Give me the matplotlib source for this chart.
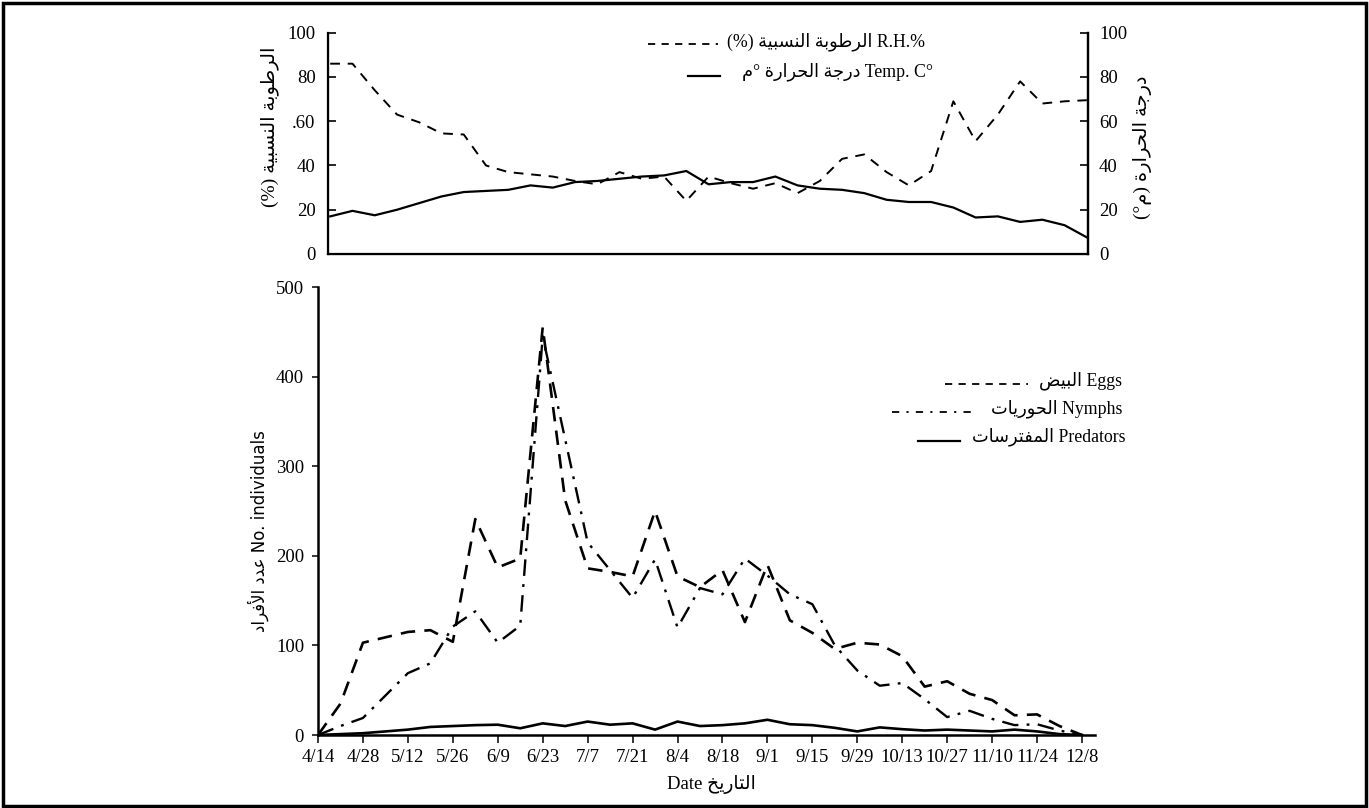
import numpy as np
import matplotlib
matplotlib.use("Agg")
import matplotlib.pyplot as plt
from matplotlib.lines import Line2D
from matplotlib.patches import Rectangle

# ---------------- data ----------------
weeks = list(range(35))  # weekly samples from 4/14 to 12/8
tick_labels = ["4/14", "4/28", "5/12", "5/26", "6/9", "6/23", "7/7", "7/21", "8/4",
               "8/18", "9/1", "9/15", "9/29", "10/13", "10/27", "11/10", "11/24", "12/8"]

rh = [86, 86, 74, 63, 59.5, 54.5, 54, 40, 37, 36, 35, 33, 31.5, 37, 34, 35, 24, 35,
      32, 29.5, 32, 27.5, 33, 43, 45, 37, 31, 37.5, 69, 51, 63, 78, 68, 69, 69.5]
temp = [17, 19.5, 17.5, 20, 23, 26, 28, 28.5, 29, 31, 30, 32.5, 33, 34, 35, 35.5, 37.5,
        31.5, 32.5, 32.5, 35, 31, 29.5, 29, 27.5, 24.5, 23.5, 23.5, 21, 16.5, 17, 14.5,
        15.5, 13, 7.5]

eggs = [0, 35, 103, 109, 115, 117, 104, 241, 187, 197, 455, 262, 186, 182, 177, 250,
        177, 165, 184, 126, 190, 128, 114, 96, 103, 101, 88, 54, 60, 46, 39, 22, 23, 10, 0]
nymphs = [0, 10, 19, 44, 69, 80, 121, 138, 103, 122, 445, 330, 215, 184, 153, 196,
          120, 164, 157, 197, 178, 157, 146, 100, 72, 55, 58, 40, 20, 27, 18, 11, 12, 5, 0]
predators = [0, 1, 2, 4, 6, 9, 10, 11, 11.5, 7.5, 13, 10, 15, 11.5, 13, 6, 15, 10, 11,
             13, 17, 12, 11, 8, 4, 8.5, 6.5, 5, 6, 5, 4, 6, 4, 1, 0]

top_left_ticks = [0, 20, 40, 60, 80, 100]
top_left_labels = ["0", "20", "40", ".60", "80", "100"]
top_right_labels = ["0", "20", "40", "60", "80", "100"]
bottom_yticks = [0, 100, 200, 300, 400, 500]

# ---------------- Arabic shaping (visual order, presentation forms) ----------------
FORMS = {
    '\u0627': ('\uFE8D', '\uFE8E', None, None),
    '\u0623': ('\uFE83', '\uFE84', None, None),
    '\u0628': ('\uFE8F', '\uFE90', '\uFE91', '\uFE92'),
    '\u0629': ('\uFE93', '\uFE94', None, None),
    '\u062A': ('\uFE95', '\uFE96', '\uFE97', '\uFE98'),
    '\u062C': ('\uFE9D', '\uFE9E', '\uFE9F', '\uFEA0'),
    '\u062D': ('\uFEA1', '\uFEA2', '\uFEA3', '\uFEA4'),
    '\u062E': ('\uFEA5', '\uFEA6', '\uFEA7', '\uFEA8'),
    '\u062F': ('\uFEA9', '\uFEAA', None, None),
    '\u0631': ('\uFEAD', '\uFEAE', None, None),
    '\u0633': ('\uFEB1', '\uFEB2', '\uFEB3', '\uFEB4'),
    '\u0636': ('\uFEBD', '\uFEBE', '\uFEBF', '\uFEC0'),
    '\u0637': ('\uFEC1', '\uFEC2', '\uFEC3', '\uFEC4'),
    '\u0639': ('\uFEC9', '\uFECA', '\uFECB', '\uFECC'),
    '\u0641': ('\uFED1', '\uFED2', '\uFED3', '\uFED4'),
    '\u0644': ('\uFEDD', '\uFEDE', '\uFEDF', '\uFEE0'),
    '\u0645': ('\uFEE1', '\uFEE2', '\uFEE3', '\uFEE4'),
    '\u0646': ('\uFEE5', '\uFEE6', '\uFEE7', '\uFEE8'),
    '\u0648': ('\uFEED', '\uFEEE', None, None),
    '\u064A': ('\uFEF1', '\uFEF2', '\uFEF3', '\uFEF4'),
}
LAMALEF = {'\u0627': ('\uFEFB', '\uFEFC'), '\u0623': ('\uFEF7', '\uFEF8')}


def ar(s):
    out = []
    i, n = 0, len(s)
    prev_fwd = False
    while i < n:
        c = s[i]
        if c == '\u0644' and i + 1 < n and s[i + 1] in LAMALEF:
            lig = LAMALEF[s[i + 1]]
            out.append(lig[1] if prev_fwd else lig[0])
            prev_fwd = False
            i += 2
            continue
        if c in FORMS:
            iso, fin, ini, med = FORMS[c]
            nxt = s[i + 1] if i + 1 < n else None
            nj = ini is not None and nxt in FORMS
            if prev_fwd and nj:
                f = med
            elif prev_fwd:
                f = fin
            elif nj:
                f = ini
            else:
                f = iso
            out.append(f)
            prev_fwd = ini is not None
        else:
            out.append(c)
            prev_fwd = False
        i += 1
    return ''.join(reversed(out))


SERIF = ['Liberation Serif', 'DejaVu Sans']
plt.rcParams['font.family'] = SERIF

W, H = 1369, 808
fig = plt.figure(figsize=(W / 100, H / 100), dpi=100)


def fx(px):
    return px / W


def fy(py):
    return 1 - py / H


TICK_FS = 13.5
LEG_FS = 12.8

# ---------------- top chart ----------------
ax1 = fig.add_axes([fx(328), fy(254), fx(1088) - fx(328), fy(32.7) - fy(254)])
ax1.plot(weeks, rh, color='black', lw=1.4, linestyle=(0, (5, 4)))
ax1.plot(weeks, temp, color='black', lw=1.6, linestyle='-')
ax1.set_xlim(-0.1, 34.05)
ax1.set_ylim(0, 100)
ax1.set_xticks([])
ax1.set_yticks(top_left_ticks)
ax1.set_yticklabels(top_left_labels, fontsize=TICK_FS)
ax1.tick_params(axis='y', direction='in', length=6, width=1.2, pad=9)
ax1.spines['top'].set_visible(False)
for sp in ['left', 'right', 'bottom']:
    ax1.spines[sp].set_linewidth(1.6)
ax1r = ax1.twinx()
ax1r.set_ylim(0, 100)
ax1r.set_yticks(top_left_ticks)
ax1r.set_yticklabels(top_right_labels, fontsize=TICK_FS)
ax1r.tick_params(axis='y', direction='in', length=6, width=1.2, pad=8)
ax1r.spines['top'].set_visible(False)
ax1r.spines['right'].set_linewidth(1.6)

fig.text(fx(270), fy(127), "(%) " + ar("الرطوبة النسبية"), rotation=90,
         ha='center', va='center', fontsize=14, family=SERIF)
fig.text(fx(1142), fy(147), "(°" + ar("م") + ") " + ar("درجة الحرارة"), rotation=90,
         ha='center', va='center', fontsize=14, family=SERIF)

# top legend
fig.add_artist(Line2D([fx(648), fx(718)], [fy(44), fy(44)], color='black', lw=1.3,
                      linestyle=(0, (4, 3.5))))
fig.text(fx(925), fy(42), "(%) " + ar("الرطوبة النسبية") + " R.H.%",
         ha='right', va='center', fontsize=LEG_FS, family=SERIF)
fig.add_artist(Line2D([fx(688), fx(720)], [fy(76), fy(76)], color='black', lw=1.6))
fig.text(fx(933), fy(72), ar("م") + "° " + ar("درجة الحرارة") + " Temp. C°",
         ha='right', va='center', fontsize=LEG_FS, family=SERIF)

# ---------------- bottom chart ----------------
ax2 = fig.add_axes([fx(318), fy(735), fx(1095) - fx(318), fy(287) - fy(735)])
ax2.plot(weeks, eggs, color='black', lw=1.9, linestyle=(0, (5.5, 3.5)))
ax2.plot(weeks, nymphs, color='black', lw=1.7, linestyle=(0, (7, 3.5, 1.2, 3.5)))
ax2.plot(weeks, predators, color='black', lw=1.9, linestyle='-')
ax2.set_xlim(0, 34.58)
ax2.set_ylim(0, 500)
ax2.set_xticks(weeks[::2])
ax2.set_xticklabels(tick_labels, fontsize=TICK_FS)
ax2.set_yticks(bottom_yticks)
ax2.set_yticklabels([str(v) for v in bottom_yticks], fontsize=TICK_FS)
ax2.tick_params(axis='x', direction='out', length=6, width=1.1, pad=4)
ax2.tick_params(axis='y', direction='out', length=4, width=1.1, pad=6)
ax2.spines['top'].set_visible(False)
ax2.spines['right'].set_visible(False)
ax2.spines['left'].set_linewidth(1.8)
ax2.spines['bottom'].set_linewidth(1.8)

fig.text(fx(258), fy(531), ar("عدد الأفراد") + " No. individuals", rotation=90,
         ha='center', va='center', fontsize=12, family=['DejaVu Sans'])
fig.text(fx(711), fy(784), "Date " + ar("التاريخ"), ha='center', va='center',
         fontsize=13.5, family=SERIF)

# bottom legend
fig.add_artist(Line2D([fx(945), fx(1028)], [fy(384), fy(384)], color='black', lw=1.3,
                      linestyle=(0, (4, 3.5))))
fig.text(fx(1122), fy(381), ar("البيض") + " Eggs", ha='right', va='center',
         fontsize=LEG_FS, family=SERIF)
fig.add_artist(Line2D([fx(892), fx(976)], [fy(412), fy(412)], color='black', lw=1.3,
                      linestyle=(0, (4, 4, 1.2, 4))))
fig.text(fx(1122), fy(409), ar("الحوريات") + " Nymphs", ha='right', va='center',
         fontsize=LEG_FS, family=SERIF)
fig.add_artist(Line2D([fx(918), fx(960)], [fy(441), fy(441)], color='black', lw=1.6))
fig.text(fx(1125), fy(437), ar("المفترسات") + " Predators", ha='right', va='center',
         fontsize=LEG_FS, family=SERIF)

# outer frame
fig.add_artist(Rectangle((0.002, 0.003), 0.996, 0.993, transform=fig.transFigure,
                         fill=False, lw=2.5, edgecolor='black'))

fig.savefig("out.png", dpi=100)
